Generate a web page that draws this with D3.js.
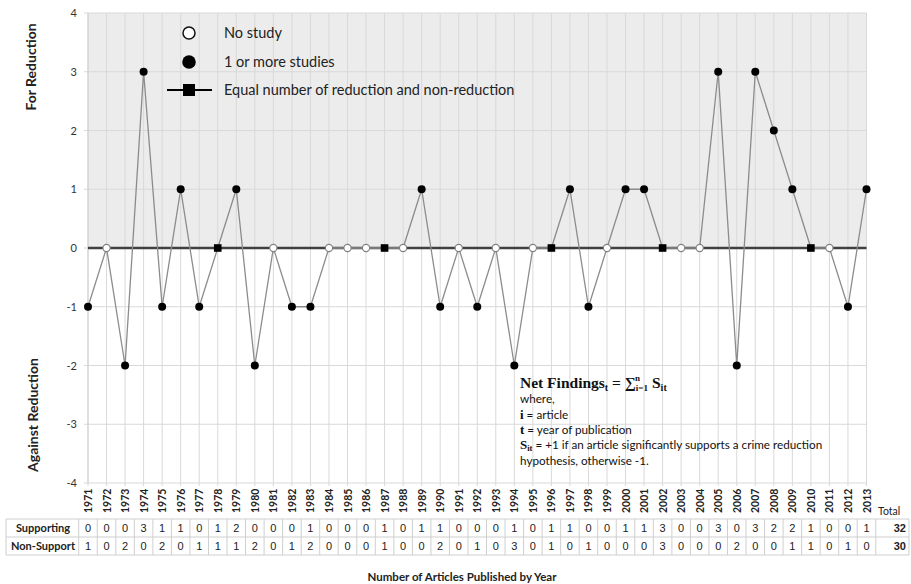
<!DOCTYPE html>
<html>
<head>
<meta charset="utf-8">
<script src="https://cdn.jsdelivr.net/npm/d3@7"></script>
<style>
body { margin: 0; background: #fff; }
svg { display: block; }
</style>
</head>
<body>
<svg id="chart" width="911" height="584"></svg>
<script>
// articles per year
var years = d3.range(1971, 2014);
var supporting = [0,0,0,3,1,1,0,1,2,0,0,0,1,0,0,0,1,0,1,1,
                  0,0,0,1,0,1,1,0,0,1,1,3,0,0,3,0,3,2,2,1,0,0,1];
var nonSupport = [1,0,2,0,2,0,1,1,1,2,0,1,2,0,0,0,1,0,0,2,
                  0,1,0,3,0,1,0,1,0,0,0,3,0,0,0,2,0,0,1,1,0,1,0];
var yTicks = [-4,-3,-2,-1,0,1,2,3,4];
var legendItems = ["No study", "1 or more studies", "Equal number of reduction and non-reduction"];
var rowNames = ["Supporting", "Non-Support"];

var svg = d3.select("#chart");
var calibri = "Lato, 'Open Sans', sans-serif";
var arial = "'Liberation Sans', Arial, sans-serif";
var serif = "'Liberation Serif', 'DejaVu Serif', serif";

var x = d3.scaleLinear().domain([1971, 2013]).range([88, 866.5]);
var y = d3.scaleLinear().domain([-4, 4]).range([483, 13]);
var step = x(1972) - x(1971);

// net findings per year + marker type
var points = years.map(function(yr, i){
    var s = supporting[i], n = nonSupport[i];
    var kind = (s + n == 0) ? "none" : (s == n ? "equal" : "some");
    return {year: yr, net: s - n, kind: kind};
});

// grey band "for reduction"
svg.append("rect")
    .attr("x", x(1971)).attr("y", y(4))
    .attr("width", x(2013) - x(1971)).attr("height", y(0) - y(4))
    .style("fill", "#ececec");

// grid
var grid = svg.append("g");
grid.selectAll(".hg").data(yTicks).enter().append("line")
    .attr("x1", x(1971) - 4).attr("x2", x(2013))
    .attr("y1", function(d){ return y(d); }).attr("y2", function(d){ return y(d); })
    .style("stroke", "#d9d9d9").style("stroke-width", 1);
grid.selectAll(".vg").data(years).enter().append("line")
    .attr("x1", function(d){ return x(d); }).attr("x2", function(d){ return x(d); })
    .attr("y1", y(4)).attr("y2", y(-4) + 3)
    .style("stroke", "#d9d9d9").style("stroke-width", 1);

// y axis line
svg.append("line")
    .attr("x1", x(1971)).attr("x2", x(1971))
    .attr("y1", y(4)).attr("y2", y(-4))
    .style("stroke", "#d0d0d0");

// y tick labels
svg.selectAll(".ytick").data(yTicks).enter().append("text")
    .attr("x", 77).attr("y", function(d){ return y(d) + 4; })
    .attr("text-anchor", "end")
    .style("font", "11px " + calibri).style("fill", "#333")
    .text(function(d){ return d; });

// y titles
svg.append("text")
    .attr("transform", "translate(36,67) rotate(-90)")
    .attr("text-anchor", "middle")
    .style("font", "bold 14px " + calibri).style("fill", "#222")
    .text("For Reduction");
svg.append("text")
    .attr("transform", "translate(38,415) rotate(-90)")
    .attr("text-anchor", "middle")
    .style("font", "bold 14px " + calibri).style("fill", "#222")
    .text("Against Reduction");

// zero line
svg.append("line")
    .attr("x1", x(1971)).attr("x2", x(2013))
    .attr("y1", y(0)).attr("y2", y(0))
    .style("stroke", "#404040").style("stroke-width", 2.5);

// series line
var line = d3.line()
    .x(function(d){ return x(d.year); })
    .y(function(d){ return y(d.net); });
svg.append("path").datum(points)
    .attr("d", line)
    .style("fill", "none").style("stroke", "#8c8c8c").style("stroke-width", 1.3);

// markers
var marks = svg.append("g");
marks.selectAll(".open").data(points.filter(function(d){ return d.kind == "none"; }))
    .enter().append("circle")
    .attr("cx", function(d){ return x(d.year); }).attr("cy", function(d){ return y(d.net); })
    .attr("r", 3.6)
    .style("fill", "#fff").style("stroke", "#808080").style("stroke-width", 1.1);
marks.selectAll(".dot").data(points.filter(function(d){ return d.kind == "some"; }))
    .enter().append("circle")
    .attr("cx", function(d){ return x(d.year); }).attr("cy", function(d){ return y(d.net); })
    .attr("r", 4)
    .style("fill", "#000");
marks.selectAll(".sq").data(points.filter(function(d){ return d.kind == "equal"; }))
    .enter().append("rect")
    .attr("x", function(d){ return x(d.year) - 3.8; }).attr("y", function(d){ return y(d.net) - 3.8; })
    .attr("width", 7.6).attr("height", 7.6)
    .style("fill", "#000");

// legend
var lg = svg.append("g");
var lgY = [33, 62, 90];
lg.append("circle").attr("cx", 189).attr("cy", lgY[0]).attr("r", 6)
    .style("fill", "#fff").style("stroke", "#111").style("stroke-width", 1.5);
lg.append("circle").attr("cx", 189).attr("cy", lgY[1]).attr("r", 6.8).style("fill", "#000");
lg.append("line").attr("x1", 167).attr("x2", 212).attr("y1", lgY[2]).attr("y2", lgY[2])
    .style("stroke", "#000").style("stroke-width", 2);
lg.append("rect").attr("x", 183).attr("y", lgY[2] - 6).attr("width", 12).attr("height", 12)
    .style("fill", "#000");
lg.selectAll(".lt").data(legendItems).enter().append("text")
    .attr("x", 224).attr("y", function(d, i){ return lgY[i] + 5; })
    .style("font", "14.5px " + calibri).style("fill", "#222")
    .text(function(d){ return d; });

// formula note
var note = svg.append("text").style("font", "11.7px " + calibri).style("fill", "#111");
var f = note.append("tspan").attr("x", 520).attr("y", 388)
    .style("font", "bold 15.5px " + serif);
f.append("tspan").text("Net Findings");
f.append("tspan").attr("dy", 3).style("font-size", "10px").text("t");
f.append("tspan").attr("dy", -3).text(" = ∑");
f.append("tspan").attr("dy", 3).style("font-size", "9px").text("i=1");
f.append("tspan").attr("dx", -13).attr("dy", -10).style("font-size", "9px").text("n");
f.append("tspan").attr("dx", 12).attr("dy", 7).text("S");
f.append("tspan").attr("dy", 3).style("font-size", "10px").text("it");
note.append("tspan").attr("x", 520).attr("y", 403).text("where,");
var l1 = note.append("tspan").attr("x", 520).attr("y", 419);
l1.append("tspan").style("font", "bold 13px " + serif).text("i");
l1.append("tspan").text(" = article");
var l2 = note.append("tspan").attr("x", 520).attr("y", 434);
l2.append("tspan").style("font", "bold 13px " + serif).text("t");
l2.append("tspan").text(" = year of publication");
var l3 = note.append("tspan").attr("x", 520).attr("y", 449);
l3.append("tspan").style("font", "bold 13px " + serif).text("S");
l3.append("tspan").attr("dy", 2).style("font", "bold 8.5px " + serif).text("it");
l3.append("tspan").attr("dy", -2).text(" = +1 if an article significantly supports a crime reduction");
note.append("tspan").attr("x", 520).attr("y", 465).text("hypothesis, otherwise -1.");

// year labels
svg.selectAll(".yr").data(years).enter().append("text")
    .attr("transform", function(d){ return "translate(" + (x(d) + 4) + ",513) rotate(-90)"; })
    .style("font", "bold 10.5px " + calibri).style("fill", "#222")
    .text(function(d){ return d; });
svg.append("text").attr("x", 878).attr("y", 515)
    .style("font", "10.5px " + calibri).style("fill", "#222").text("Total");

// table
var tbl = svg.append("g");
var rowTop = [519, 537];
var rows = [supporting, nonSupport];
tbl.selectAll(".hl").data([519, 537, 555]).enter().append("line")
    .attr("x1", 6).attr("x2", 909)
    .attr("y1", function(d){ return d; }).attr("y2", function(d){ return d; })
    .style("stroke", "#cfcfcf");
var colEdges = [6].concat(years.map(function(d){ return x(d) - step / 2; }), [x(2013) + step / 2, 909]);
tbl.selectAll(".vl").data(colEdges).enter().append("line")
    .attr("x1", function(d){ return d; }).attr("x2", function(d){ return d; })
    .attr("y1", 519).attr("y2", 555)
    .style("stroke", "#cfcfcf");
rows.forEach(function(vals, r){
    tbl.append("text").attr("x", 43).attr("y", rowTop[r] + 13)
        .attr("text-anchor", "middle")
        .style("font", "bold 11px " + calibri).style("fill", "#222")
        .text(rowNames[r]);
    tbl.selectAll(".c" + r).data(vals).enter().append("text")
        .attr("x", function(d, i){ return x(years[i]); })
        .attr("y", rowTop[r] + 13)
        .attr("text-anchor", "middle")
        .style("font", "11px " + arial).style("fill", "#222")
        .text(function(d){ return d; });
    tbl.append("text").attr("x", 906).attr("y", rowTop[r] + 13)
        .attr("text-anchor", "end")
        .style("font", "bold 11px " + arial).style("fill", "#222")
        .text(d3.sum(vals));
});

// x title
svg.append("text").attr("x", 462).attr("y", 581)
    .attr("text-anchor", "middle")
    .style("font", "bold 11.5px " + calibri).style("fill", "#222")
    .text("Number of Articles Published by Year");
</script>
</body>
</html>
